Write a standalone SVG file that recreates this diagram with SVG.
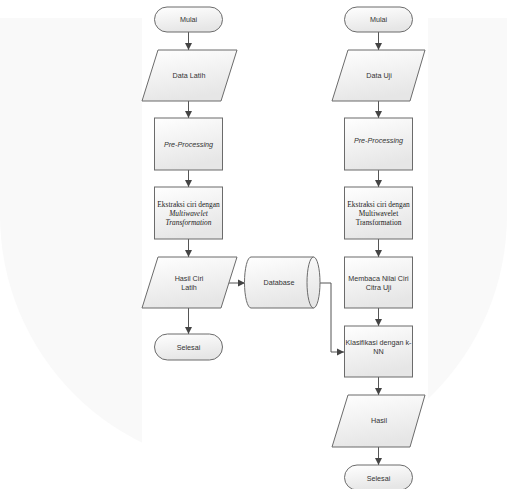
<svg xmlns="http://www.w3.org/2000/svg" width="507" height="489" viewBox="0 0 507 489">
<defs>
<linearGradient id="g" x1="0" y1="0" x2="0.3" y2="1">
<stop offset="0" stop-color="#ffffff"/>
<stop offset="1" stop-color="#e6e6e6"/>
</linearGradient>
<marker id="ah" markerWidth="8" markerHeight="8" refX="7" refY="4" orient="auto" markerUnits="userSpaceOnUse">
<path d="M0,0.5 L7,4 L0,7.5 Z" fill="#444"/>
</marker>
<style>
.s{fill:url(#g);stroke:#6b6b6b;stroke-width:1}
.t{font-family:"Liberation Sans",Arial,sans-serif;font-size:7.2px;fill:#333;text-anchor:middle}
.r{font-family:"Liberation Serif","Times New Roman",serif;font-size:7.4px;fill:#222;text-anchor:middle}
.i{font-style:italic}
.c{fill:none;stroke:#555;stroke-width:1;marker-end:url(#ah)}
</style>
</defs>
<rect width="507" height="489" fill="#ffffff"/>
<path d="M0,18 H507 V215 A253.5,253.5 0 0 1 0,215 Z" fill="#f9f9f9"/>
<rect x="142" y="0" width="286" height="489" fill="#ffffff"/>

<g id="connectors">
<line class="c" x1="188.5" y1="32" x2="188.5" y2="50"/>
<line class="c" x1="188.5" y1="101" x2="188.5" y2="118"/>
<line class="c" x1="188.5" y1="170" x2="188.5" y2="187"/>
<line class="c" x1="188.5" y1="239" x2="188.5" y2="257"/>
<line class="c" x1="188.5" y1="308" x2="188.5" y2="334"/>
<line class="c" x1="226" y1="283" x2="245" y2="283"/>
<polyline class="c" points="315,283 331,283 331,352 344,352"/>
<line class="c" x1="378.5" y1="32" x2="378.5" y2="50"/>
<line class="c" x1="378.5" y1="101" x2="378.5" y2="118"/>
<line class="c" x1="378.5" y1="170" x2="378.5" y2="187"/>
<line class="c" x1="378.5" y1="239" x2="378.5" y2="257"/>
<line class="c" x1="378.5" y1="308" x2="378.5" y2="326"/>
<line class="c" x1="378.5" y1="377" x2="378.5" y2="395"/>
<line class="c" x1="378.5" y1="447" x2="378.5" y2="465"/>
</g>

<g id="mulai1"><rect class="s" x="154.5" y="7" width="68" height="25" rx="12.5"/><text class="t" x="188.5" y="22">Mulai</text></g>
<g id="datalatih"><polygon class="s" points="158,50 237,50 221,101 142,101"/><text class="t" x="189" y="78">Data Latih</text></g>
<g id="preproc1"><rect class="s" x="154.5" y="118" width="68" height="52"/><text class="t i" x="188.5" y="147" font-size="7">Pre-Processing</text></g>
<g id="ekstraksi1"><rect class="s" x="154.5" y="187" width="68" height="52"/>
<text class="r" x="188.5" y="207">Ekstraksi ciri dengan</text>
<text class="r i" x="188.5" y="216">Multiwavelet</text>
<text class="r i" x="188.5" y="225">Transformation</text></g>
<g id="hasilciri"><polygon class="s" points="158,257 237,257 221,308 142,308"/><text class="t" x="189" y="281">Hasil Ciri</text><text class="t" x="189" y="290">Latih</text></g>
<g id="selesai1"><rect class="s" x="154.5" y="334" width="68" height="26" rx="13"/><text class="t" x="188.5" y="350">Selesai</text></g>

<g id="database"><path class="s" d="M251,257 H313.5 A6.5,25.5 0 0 1 313.5,308 H251 A6.5,25.5 0 0 1 251,257 Z"/><path d="M313.5,257 A6.5,25.5 0 0 0 313.5,308" fill="none" stroke="#6b6b6b"/><text class="t" x="279" y="285" font-size="6.5">Database</text></g>

<g id="mulai2"><rect class="s" x="344.5" y="7" width="68" height="25" rx="12.5"/><text class="t" x="378.5" y="22">Mulai</text></g>
<g id="datauji"><polygon class="s" points="348,50 425,50 410,101 332,101"/><text class="t" x="379" y="78">Data Uji</text></g>
<g id="preproc2"><rect class="s" x="344.5" y="118" width="68" height="52"/><text class="t i" x="378.5" y="143" font-size="7.8">Pre-Processing</text></g>
<g id="ekstraksi2"><rect class="s" x="344.5" y="187" width="68" height="52"/>
<text class="r" x="378.5" y="207">Ekstraksi ciri dengan</text>
<text class="r" x="378.5" y="216">Multiwavelet</text>
<text class="r" x="378.5" y="225">Transformation</text></g>
<g id="membaca"><rect class="s" x="344.5" y="257" width="68" height="51"/><text class="t" x="378.5" y="281">Membaca Nilai Ciri</text><text class="t" x="378.5" y="290">Citra Uji</text></g>
<g id="klasifikasi"><rect class="s" x="344.5" y="326" width="68" height="51"/><text class="t" x="378.5" y="345">Klasifikasi dengan k-</text><text class="t" x="378.5" y="354">NN</text></g>
<g id="hasil"><polygon class="s" points="348,395 425,395 410,447 332,447"/><text class="t" x="379" y="423">Hasil</text></g>
<g id="selesai2"><rect class="s" x="344.5" y="465" width="68" height="25" rx="12.5"/><text class="t" x="378.5" y="481">Selesai</text></g>
</svg>
